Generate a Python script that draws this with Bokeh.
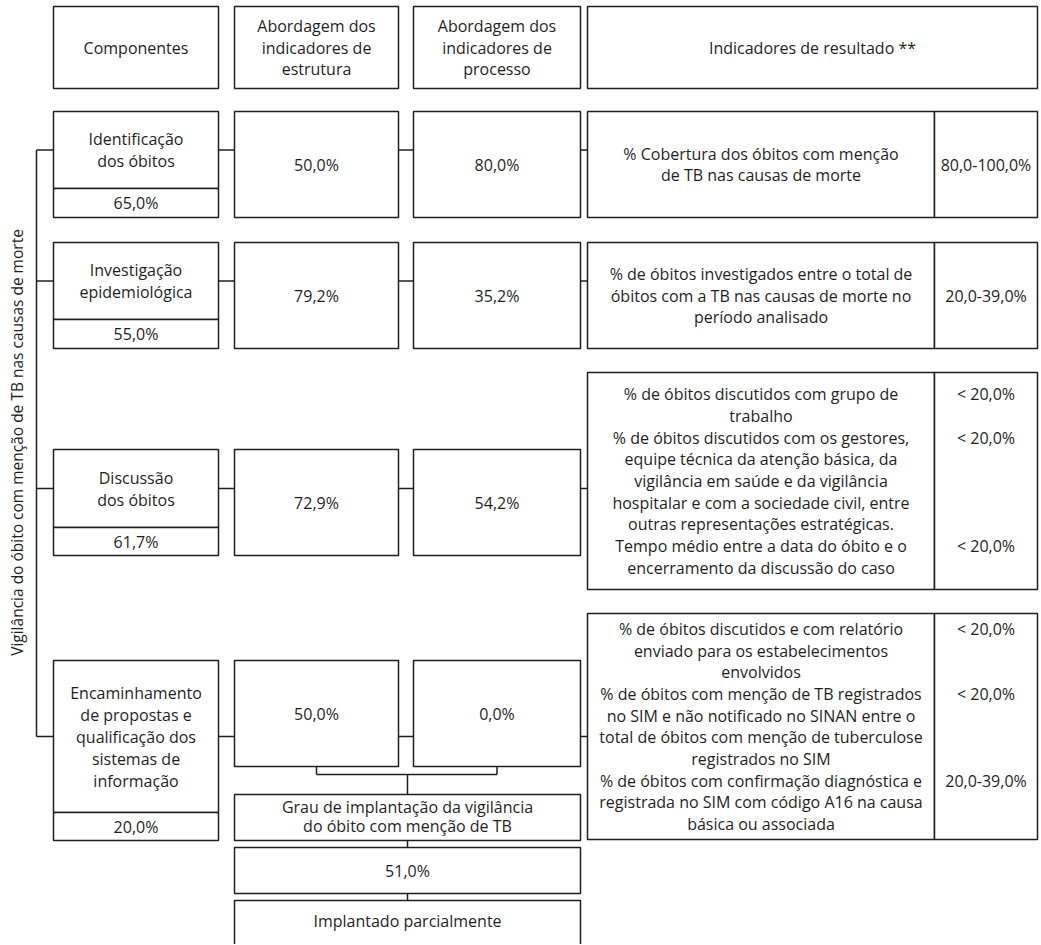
import math
from bokeh.plotting import figure
from bokeh.models import Range1d, ColumnDataSource
from bokeh.core.properties import value
from bokeh.embed import file_html
from bokeh.resources import INLINE

# ---------------- data ----------------
headers = [
    "Componentes",
    "Abordagem dos\nindicadores de\nestrutura",
    "Abordagem dos\nindicadores de\nprocesso",
    "Indicadores de resultado **",
]
components = [
    "Identificação\ndos óbitos",
    "Investigação\nepidemiológica",
    "Discussão\ndos óbitos",
    "Encaminhamento\nde propostas e\nqualificação dos\nsistemas de\ninformação",
]
component_pct = [65.0, 55.0, 61.7, 20.0]
structure_pct = [50.0, 79.2, 72.9, 50.0]
process_pct = [80.0, 35.2, 54.2, 0.0]
result_indicators = [
    ["% Cobertura dos óbitos com menção\nde TB nas causas de morte"],
    ["% de óbitos investigados entre o total de\nóbitos com a TB nas causas de morte no\nperíodo analisado"],
    ["% de óbitos discutidos com grupo de\ntrabalho",
     "% de óbitos discutidos com os gestores,\nequipe técnica da atenção básica, da\nvigilância em saúde e da vigilância\nhospitalar e com a sociedade civil, entre\noutras representações estratégicas.",
     "Tempo médio entre a data do óbito e o\nencerramento da discussão do caso"],
    ["% de óbitos discutidos e com relatório\nenviado para os estabelecimentos\nenvolvidos",
     "% de óbitos com menção de TB registrados\nno SIM e não notificado no SINAN entre o\ntotal de óbitos com menção de tuberculose\nregistrados no SIM",
     "% de óbitos com confirmação diagnóstica e\nregistrada no SIM com código A16 na causa\nbásica ou associada"],
]
result_values = [
    ["80,0-100,0%"],
    ["20,0-39,0%"],
    ["< 20,0%", "< 20,0%", "< 20,0%"],
    ["< 20,0%", "< 20,0%", "20,0-39,0%"],
]
overall_title = "Grau de implantação da vigilância\ndo óbito com menção de TB"
overall_pct = 51.0
overall_status = "Implantado parcialmente"
side_label = "Vigilância do óbito com menção de TB nas causas de morte"

# ---------------- layout ----------------
COMP = (53, 218)
STRU = (234, 398)
PROC = (413, 580)
RES = (587, 934)
VAL = (934, 1037)
HEAD_Y = (6, 88)
ROW_TOP = [111, 242, 449, 660]
ROW_BOT = [217, 348, 555, 766]
COMP_DIV = [188, 319, 527, 812]
COMP_BOT = [217, 348, 555, 840]
RES_Y = [(111, 217), (242, 348), (372, 589), (613, 839)]
SPINE_X = 36
LH = 21.7
OV_BOXES = [(794, 840), (847, 893), (900, 960)]

LINE = "#1f1f1f"
TXT = "#1f1f1f"
FONT = value("Open Sans")


def pct(v):
    return f"{v:.1f}%".replace(".", ",")


p = figure(width=1040, height=944, x_range=Range1d(0, 1040), y_range=Range1d(944, 0),
           output_backend="svg", toolbar_location=None, min_border=0,
           x_axis_type=None, y_axis_type=None)
p.grid.visible = False
p.outline_line_color = None
p.background_fill_color = "white"

boxes = dict(l=[], r=[], t=[], b=[])


def box(x, y):
    boxes["l"].append(x[0]); boxes["r"].append(x[1])
    boxes["t"].append(y[0]); boxes["b"].append(y[1])


segs = dict(x0=[], y0=[], x1=[], y1=[])


def seg(x0, y0, x1, y1):
    segs["x0"].append(x0); segs["y0"].append(y0)
    segs["x1"].append(x1); segs["y1"].append(y1)


tx = dict(x=[], y=[], text=[])


def block(text, cx, cy, lh=LH):
    lines = text.split("\n")
    n = len(lines)
    for i, ln in enumerate(lines):
        tx["x"].append(cx)
        tx["y"].append(cy + (i - (n - 1) / 2) * lh)
        tx["text"].append(ln)


def mid(a):
    return (a[0] + a[1]) / 2


# headers
for col, h in zip([COMP, STRU, PROC, (RES[0], VAL[1])], headers):
    box(col, HEAD_Y)
    block(h, mid(col), mid(HEAD_Y))

# rows
for i in range(4):
    top, bot = ROW_TOP[i], ROW_BOT[i]
    cy_conn = (top + COMP_DIV[i]) / 2
    # component
    box(COMP, (top, COMP_DIV[i]))
    box(COMP, (COMP_DIV[i], COMP_BOT[i]))
    block(components[i], mid(COMP), cy_conn, 22)
    block(pct(component_pct[i]), mid(COMP), (COMP_DIV[i] + COMP_BOT[i]) / 2)
    # structure/process
    box(STRU, (top, bot))
    block(pct(structure_pct[i]), mid(STRU), (top + bot) / 2)
    box(PROC, (top, bot))
    block(pct(process_pct[i]), mid(PROC), (top + bot) / 2)
    # result
    box(RES, RES_Y[i])
    box(VAL, RES_Y[i])
    all_lines = []
    starts = []
    for ind in result_indicators[i]:
        starts.append(len(all_lines))
        all_lines.extend(ind.split("\n"))
    n = len(all_lines)
    cy = mid(RES_Y[i])
    y0 = cy - (n - 1) / 2 * LH
    block("\n".join(all_lines), mid(RES), cy)
    if len(result_values[i]) == 1:
        block(result_values[i][0], mid(VAL), cy)
    else:
        for s, v in zip(starts, result_values[i]):
            block(v, mid(VAL), y0 + s * LH)
    # connectors
    seg(SPINE_X, cy_conn, COMP[0], cy_conn)
    seg(COMP[1], cy_conn, STRU[0], cy_conn)
    seg(STRU[1], cy_conn, PROC[0], cy_conn)
    seg(PROC[1], cy_conn, RES[0], cy_conn)

# spine
first_y = (ROW_TOP[0] + COMP_DIV[0]) / 2
last_y = (ROW_TOP[3] + COMP_DIV[3]) / 2
seg(SPINE_X, first_y, SPINE_X, last_y)

# bracket to overall
br_y = ROW_BOT[3] + 8
seg(mid(STRU), ROW_BOT[3], mid(STRU), br_y)
seg(mid(PROC), ROW_BOT[3], mid(PROC), br_y)
seg(mid(STRU), br_y, mid(PROC), br_y)
ov_x = (STRU[0], PROC[1])
seg(mid(ov_x), br_y, mid(ov_x), OV_BOXES[0][0])
for a, b in zip(OV_BOXES[:-1], OV_BOXES[1:]):
    seg(mid(ov_x), a[1], mid(ov_x), b[0])
for yb in OV_BOXES:
    box(ov_x, yb)
block(overall_title, mid(ov_x), mid(OV_BOXES[0]) - 1, 19)
block(pct(overall_pct), mid(ov_x), mid(OV_BOXES[1]))
block(overall_status, mid(ov_x), 920)

p.quad(left=boxes["l"], right=boxes["r"], top=boxes["t"], bottom=boxes["b"],
       fill_color="white", line_color=LINE, line_width=1.5)
p.segment(x0=segs["x0"], y0=segs["y0"], x1=segs["x1"], y1=segs["y1"],
          line_color=LINE, line_width=1.5)
p.text(x="x", y="y", text="text", source=ColumnDataSource(tx),
       text_font=FONT, text_font_size="16px", text_align="center",
       text_baseline="middle", text_color=TXT)
p.text(x=[16], y=[442], text=[side_label], angle=math.pi / 2,
       text_font=FONT, text_font_size="15.5px", text_align="center",
       text_baseline="middle", text_color=TXT)

open("out.html", "w").write(file_html(p, INLINE))
